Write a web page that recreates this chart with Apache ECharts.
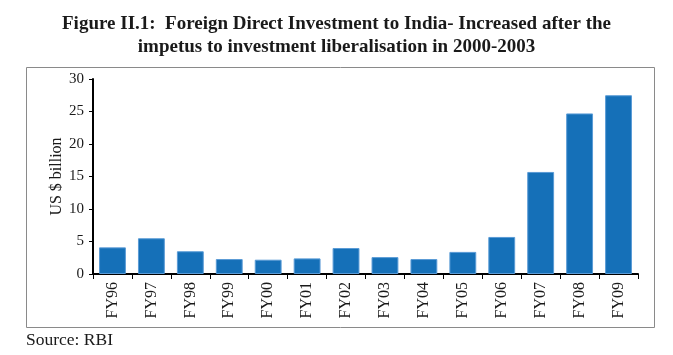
<!DOCTYPE html>
<html><head><meta charset="utf-8">
<script src="https://cdn.jsdelivr.net/npm/echarts@6/dist/echarts.min.js"></script>
<style>html,body{margin:0;padding:0;background:#fff}#c{width:673px;height:355px}</style>
</head><body><div id="c"></div>
<script>
const categories = ['FY96','FY97','FY98','FY99','FY00','FY01','FY02','FY03','FY04','FY05','FY06','FY07','FY08','FY09'];
const fdiValues = [4.1, 5.5, 3.5, 2.3, 2.2, 2.4, 4.0, 2.6, 2.3, 3.4, 5.7, 15.7, 24.7, 27.5];
const yTicks = [0, 5, 10, 15, 20, 25, 30];

const serif = '"Liberation Serif","DejaVu Serif",serif';
const chart = echarts.init(document.getElementById('c'), null, {renderer: 'canvas'});
chart.setOption({
  animation: false,
  title: {
    text: 'Figure II.1:  Foreign Direct Investment to India- Increased after the\nimpetus to investment liberalisation in 2000-2003',
    left: 'center', top: 8,
    textStyle: {fontFamily: serif, fontWeight: 'bold', fontSize: 19, color: '#1a1a1a', lineHeight: 23}
  },
  graphic: [
    {type: 'rect', shape: {x: 26.5, y: 67.5, width: 628, height: 260}, style: {fill: 'none', stroke: '#8a8a8a', lineWidth: 1}},
    {type: 'text', left: 26, top: 331, style: {text: 'Source: RBI', font: '17.5px ' + serif, fill: '#1a1a1a'}}
  ],
  grid: {left: 93, right: 35, top: 79, bottom: 81},
  xAxis: {
    type: 'category', data: categories,
    axisLine: {lineStyle: {color: '#000', width: 2}},
    axisTick: {show: true, length: 5, lineStyle: {color: '#000', width: 1}},
    axisLabel: {rotate: 90, fontFamily: serif, fontSize: 16, color: '#1a1a1a', margin: 8}
  },
  yAxis: {
    type: 'value', min: yTicks[0], max: yTicks[yTicks.length - 1], interval: 5,
    name: 'US $ billion', nameLocation: 'middle', nameGap: 28, nameRotate: 90,
    nameMoveOverlap: false,
    nameTextStyle: {fontFamily: serif, fontSize: 16, color: '#1a1a1a'},
    axisLine: {show: true, lineStyle: {color: '#000', width: 2}},
    axisTick: {show: true, length: 4, lineStyle: {color: '#000'}},
    axisLabel: {fontFamily: serif, fontSize: 15, color: '#1a1a1a', margin: 9},
    splitLine: {show: false}
  },
  series: [{
    type: 'bar', data: fdiValues, barWidth: '69%',
    itemStyle: {color: '#1570b8', borderColor: '#5a9bd6', borderWidth: 1}
  }]
});
</script></body></html>
